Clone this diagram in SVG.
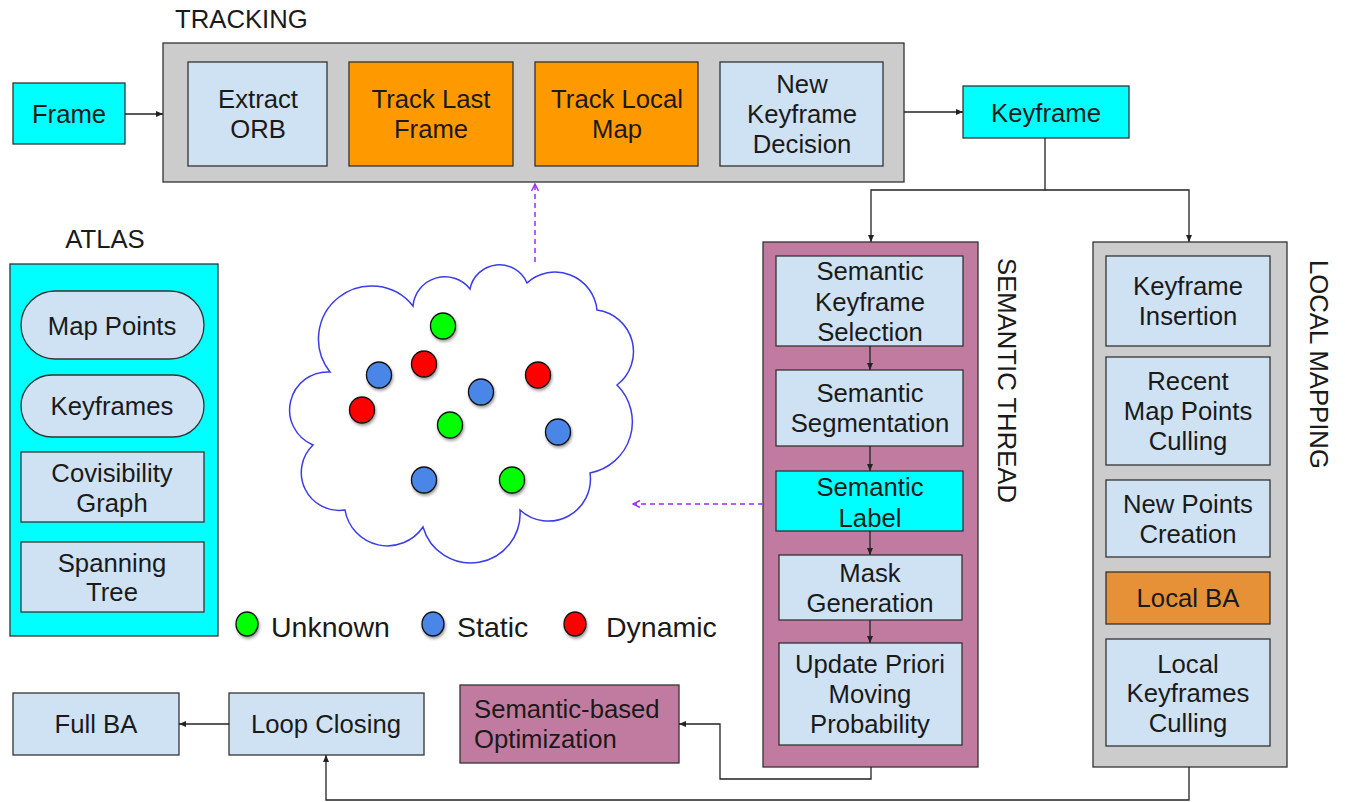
<svg xmlns="http://www.w3.org/2000/svg" width="1345" height="802" viewBox="0 0 1345 802">
<style>
.box{stroke:#333;stroke-width:1.3}
.lb{fill:#cfe2f3}
.cy{fill:#00ffff}
.or{fill:#ff9900}
.or2{fill:#e69138}
.pu{fill:#c27ba0}
.gr{fill:#cccccc}
.t{font-family:"Liberation Sans",Arial,sans-serif;font-size:25.7px;fill:#1a1a1a;text-anchor:middle}
.tl{font-family:"Liberation Sans",Arial,sans-serif;font-size:25.7px;fill:#1a1a1a}
.lg{font-family:"Liberation Sans",Arial,sans-serif;font-size:28.5px;fill:#1a1a1a}
.ln{fill:none;stroke:#222;stroke-width:1.3}
.dash{fill:none;stroke:#9a2cf5;stroke-width:1.5;stroke-dasharray:5 4}
.dot{stroke:#111;stroke-width:1.3}
</style>
<defs>
<marker id="ah" markerUnits="userSpaceOnUse" markerWidth="8" markerHeight="7" refX="7" refY="3.5" orient="auto"><path d="M0,0.5 L7,3.5 L0,6.5 z" fill="#222"/></marker>
<marker id="ahp" markerUnits="userSpaceOnUse" markerWidth="9" markerHeight="8" refX="8" refY="4" orient="auto"><path d="M1,0.5 L8,4 L1,7.5" fill="none" stroke="#9a2cf5" stroke-width="1.4"/></marker>
<filter id="sh" x="-50%" y="-50%" width="200%" height="200%"><feDropShadow dx="1" dy="2" stdDeviation="1.5" flood-color="#000" flood-opacity="0.4"/></filter>
</defs>
<rect width="1345" height="802" fill="#fff"/>

<g id="tracking">
<text class="tl" x="175" y="28">TRACKING</text>
<rect class="box gr" x="163" y="43" width="741" height="139"/>
</g>
<g id="frame"><rect class="box cy" x="13" y="83" width="112" height="61"/><text class="t" x="69" y="123">Frame</text></g>
<g id="extract-orb"><rect class="box lb" x="188" y="62" width="139" height="104"/><text class="t" x="258" y="108">Extract</text><text class="t" x="258" y="138">ORB</text></g>
<g id="track-last-frame"><rect class="box or" x="349" y="62" width="164" height="104"/><text class="t" x="431" y="108">Track Last</text><text class="t" x="431" y="138">Frame</text></g>
<g id="track-local-map"><rect class="box or" x="535" y="62" width="163" height="104"/><text class="t" x="617" y="108">Track Local</text><text class="t" x="617" y="138">Map</text></g>
<g id="new-keyframe-decision"><rect class="box lb" x="720" y="62" width="163" height="104"/><text class="t" x="802" y="93">New</text><text class="t" x="802" y="123">Keyframe</text><text class="t" x="802" y="153">Decision</text></g>
<g id="keyframe"><rect class="box cy" x="963" y="86" width="166" height="52"/><text class="t" x="1046" y="122">Keyframe</text></g>

<g id="atlas">
<text class="t" x="105" y="248">ATLAS</text>
<rect class="box cy" x="10" y="264" width="208" height="372"/>
</g>
<g id="map-points"><rect class="box lb" x="21" y="291" width="183" height="68" rx="34"/><text class="t" x="112" y="335">Map Points</text></g>
<g id="keyframes"><rect class="box lb" x="21" y="375" width="183" height="62" rx="31"/><text class="t" x="112" y="415">Keyframes</text></g>
<g id="covisibility-graph"><rect class="box lb" x="21" y="452" width="183" height="70"/><text class="t" x="112" y="482">Covisibility</text><text class="t" x="112" y="512">Graph</text></g>
<g id="spanning-tree"><rect class="box lb" x="21" y="542" width="183" height="70"/><text class="t" x="112" y="572">Spanning</text><text class="t" x="112" y="601">Tree</text></g>

<g id="map-cloud">
<path d="M330 372 A53 53 0 0 1 413 306 A32 32 0 0 1 470 289 A30 30 0 0 1 527 283 A42 42 0 0 1 597 310 A42 42 0 0 1 617 385 A52 52 0 0 1 590 473 A42 42 0 0 1 520 510 A49.5 49.5 0 0 1 423 527 A43 43 0 0 1 345 510 A38 38 0 0 1 313 445 A38 38 0 0 1 330 372 Z" fill="#fff" stroke="#3b3be8" stroke-width="1.5"/>
<g filter="url(#sh)">
<ellipse class="dot" cx="443" cy="326" rx="12.5" ry="13" fill="#00ff00"/>
<ellipse class="dot" cx="424" cy="364" rx="12.5" ry="13" fill="#ff0000"/>
<ellipse class="dot" cx="379" cy="375" rx="12.5" ry="13" fill="#4a86e8"/>
<ellipse class="dot" cx="481" cy="392" rx="12.5" ry="13" fill="#4a86e8"/>
<ellipse class="dot" cx="538" cy="375" rx="12.5" ry="13" fill="#ff0000"/>
<ellipse class="dot" cx="362" cy="410" rx="12.5" ry="13" fill="#ff0000"/>
<ellipse class="dot" cx="450" cy="425" rx="12.5" ry="13" fill="#00ff00"/>
<ellipse class="dot" cx="558" cy="432" rx="12.5" ry="13" fill="#4a86e8"/>
<ellipse class="dot" cx="424" cy="480" rx="12.5" ry="13" fill="#4a86e8"/>
<ellipse class="dot" cx="512" cy="480" rx="12.5" ry="13" fill="#00ff00"/>
</g>
</g>

<g id="legend">
<g filter="url(#sh)">
<ellipse class="dot" cx="247" cy="624" rx="11" ry="12" fill="#00ff00"/>
<ellipse class="dot" cx="433" cy="624" rx="11" ry="12" fill="#4a86e8"/>
<ellipse class="dot" cx="575" cy="624" rx="11" ry="12" fill="#ff0000"/>
</g>
<text class="lg" x="271" y="637">Unknown</text>
<text class="lg" x="457" y="637">Static</text>
<text class="lg" x="606" y="637">Dynamic</text>
</g>

<g id="semantic-thread">
<rect class="box pu" x="763" y="242" width="215" height="525"/>
<text class="tl" transform="translate(998,258) rotate(90)">SEMANTIC THREAD</text>
</g>
<g id="semantic-keyframe-selection"><rect class="box lb" x="776" y="256" width="187" height="90"/><text class="t" x="870" y="280">Semantic</text><text class="t" x="870" y="311">Keyframe</text><text class="t" x="870" y="341">Selection</text></g>
<g id="semantic-segmentation"><rect class="box lb" x="776" y="370" width="187" height="76"/><text class="t" x="870" y="402">Semantic</text><text class="t" x="870" y="432">Segmentation</text></g>
<g id="semantic-label"><rect class="box cy" x="776" y="471" width="187" height="60"/><text class="t" x="870" y="496">Semantic</text><text class="t" x="870" y="527">Label</text></g>
<g id="mask-generation"><rect class="box lb" x="779" y="555" width="183" height="65"/><text class="t" x="870" y="582">Mask</text><text class="t" x="870" y="612">Generation</text></g>
<g id="update-priori"><rect class="box lb" x="779" y="643" width="183" height="102"/><text class="t" x="870" y="673">Update Priori</text><text class="t" x="870" y="703">Moving</text><text class="t" x="870" y="733">Probability</text></g>

<g id="local-mapping">
<rect class="box gr" x="1093" y="242" width="194" height="525"/>
<text class="tl" transform="translate(1310,260) rotate(90)">LOCAL MAPPING</text>
</g>
<g id="keyframe-insertion"><rect class="box lb" x="1106" y="256" width="164" height="90"/><text class="t" x="1188" y="295">Keyframe</text><text class="t" x="1188" y="325">Insertion</text></g>
<g id="recent-map-points-culling"><rect class="box lb" x="1106" y="357" width="164" height="108"/><text class="t" x="1188" y="390">Recent</text><text class="t" x="1188" y="420">Map Points</text><text class="t" x="1188" y="450">Culling</text></g>
<g id="new-points-creation"><rect class="box lb" x="1106" y="480" width="164" height="77"/><text class="t" x="1188" y="513">New Points</text><text class="t" x="1188" y="543">Creation</text></g>
<g id="local-ba"><rect class="box or2" x="1106" y="572" width="164" height="52"/><text class="t" x="1188" y="607">Local BA</text></g>
<g id="local-keyframes-culling"><rect class="box lb" x="1106" y="639" width="164" height="107"/><text class="t" x="1188" y="673">Local</text><text class="t" x="1188" y="702">Keyframes</text><text class="t" x="1188" y="732">Culling</text></g>

<g id="semantic-based-optimization"><rect class="box pu" x="460" y="685" width="219" height="78"/><text class="tl" x="474" y="718">Semantic-based</text><text class="tl" x="474" y="748">Optimization</text></g>
<g id="loop-closing"><rect class="box lb" x="229" y="693" width="195" height="62"/><text class="t" x="326" y="733">Loop Closing</text></g>
<g id="full-ba"><rect class="box lb" x="13" y="693" width="166" height="62"/><text class="t" x="96" y="733">Full BA</text></g>

<g id="connectors">
<path class="ln" d="M125,114 H163" marker-end="url(#ah)"/>
<path class="ln" d="M904,112 H963" marker-end="url(#ah)"/>
<path class="ln" d="M1045,138 V190 H871 V242" marker-end="url(#ah)"/>
<path class="ln" d="M1045,190 H1189 V242" marker-end="url(#ah)"/>
<path class="ln" d="M870,346 V370" marker-end="url(#ah)"/>
<path class="ln" d="M870,446 V471" marker-end="url(#ah)"/>
<path class="ln" d="M870,531 V555" marker-end="url(#ah)"/>
<path class="ln" d="M870,620 V643" marker-end="url(#ah)"/>
<path class="ln" d="M871,767 V779 H720 V724 H679" marker-end="url(#ah)"/>
<path class="ln" d="M1189,767 V800 H326 V755" marker-end="url(#ah)"/>
<path class="ln" d="M229,724 H179" marker-end="url(#ah)"/>
<path class="dash" d="M535,262 V184" marker-end="url(#ahp)"/>
<path class="dash" d="M763,504 H633" marker-end="url(#ahp)"/>
</g>
</svg>
